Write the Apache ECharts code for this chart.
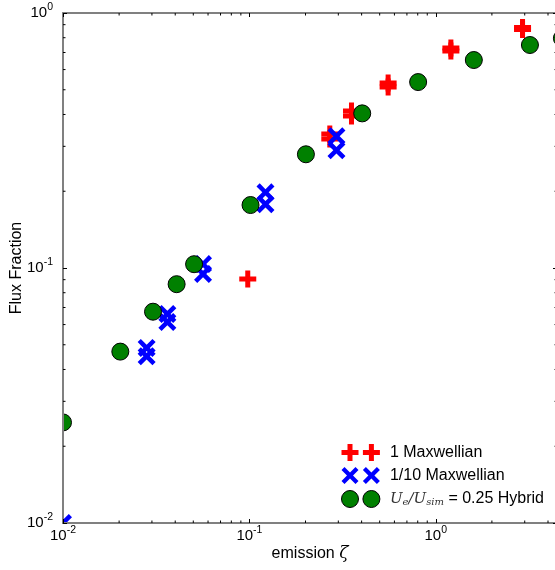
<!DOCTYPE html>
<html><head><meta charset="utf-8">
<script src="https://cdn.jsdelivr.net/npm/echarts@6/dist/echarts.min.js"></script>
<style>html,body{margin:0;padding:0;background:#fff}#c{width:555px;height:570px}</style>
</head><body><div id="c"></div>
<script>
// ---- data ----
const redX = [0.098, 0.27, 0.27, 0.353, 0.353, 0.555, 0.555, 1.205, 1.205, 2.92, 2.92];
const redY = [0.0906, 0.335, 0.3206, 0.4127, 0.3944, 0.5314, 0.5127, 0.7292, 0.7096, 0.877, 0.8614];
const blueX = [0.01, 0.0281, 0.0281, 0.0363, 0.0363, 0.0564, 0.0564, 0.122, 0.122, 0.2932, 0.2932];
const blueY = [0.01, 0.0486, 0.0451, 0.066, 0.0614, 0.1036, 0.0947, 0.198, 0.1778, 0.3286, 0.2894];
const greenX = [0.01, 0.0203, 0.0304, 0.0407, 0.0505, 0.1014, 0.201, 0.403, 0.804, 1.60, 3.2, 4.75];
const greenY = [0.0248, 0.047, 0.0674, 0.0864, 0.1035, 0.1766, 0.2792, 0.404, 0.536, 0.654, 0.749, 0.796];
const seriesNames = ['1 Maxwellian', '1/10 Maxwellian', 'Hybrid'];
const xMin = 0.01, xMax = 4.47, yMin = 0.01, yMax = 1;
const xMinorTicks = [0.02,0.03,0.04,0.05,0.06,0.07,0.08,0.09,0.2,0.3,0.4,0.5,0.6,0.7,0.8,0.9,2,3,4];
const yMinorTicks = [0.02,0.03,0.04,0.05,0.06,0.07,0.08,0.09,0.2,0.3,0.4,0.5,0.6,0.7,0.8,0.9];

// ---- marker shapes ----
const PLUS = 'path://M6,0H11V6H17V11H11V17H6V11H0V6H6Z';
const XMARK = 'path://M0,3.2L3.2,0L9,5.8L14.8,0L18,3.2L12.2,9L18,14.8L14.8,18L9,12.2L3.2,18L0,14.8L5.8,9Z';
const PLUS2 = 'path://M6,0H11V6H17V11H11V17H6V11H0V6H6ZM27.4,0H32.4V6H38.4V11H32.4V17H27.4V11H21.4V6H27.4Z';
const X2 = 'path://M0,3L3,0L8.5,5.5L14,0L17,3L11.5,8.5L17,14L14,17L8.5,11.5L3,17L0,14L5.5,8.5Z' +
  'M21.4,3L24.4,0L29.9,5.5L35.4,0L38.4,3L32.9,8.5L38.4,14L35.4,17L29.9,11.5L24.4,17L21.4,14L26.9,8.5Z';
const C2 = 'path://M0,8.5A8.5,8.5,0,1,1,17,8.5A8.5,8.5,0,1,1,0,8.5ZM21.4,8.5A8.5,8.5,0,1,1,38.4,8.5A8.5,8.5,0,1,1,21.4,8.5Z';

const FONT = 'Liberation Sans';
function pow10Label(v) {
  const e = Math.round(Math.log10(v));
  if (Math.abs(v - Math.pow(10, e)) / v > 1e-6) return '';
  return '{b|10}{s|' + e + '}';
}
const labelRich = {
  b: {fontSize: 15, lineHeight: 22, fontFamily: FONT, color: '#000'},
  s: {fontSize: 10.5, lineHeight: 10, verticalAlign: 'top', fontFamily: FONT, color: '#000'}
};
const axisLineStyle = {color: '#808080', width: 2};
const tickStyle = {inside: true, length: 4, lineStyle: {color: '#000', width: 1}};

function pairs(xs, ys) { return xs.map((x, i) => [x, ys[i]]); }

const chart = echarts.init(document.getElementById('c'), null, {renderer: 'canvas'});
chart.setOption({
  animation: false,
  backgroundColor: '#fff',
  grid: {left: 63, top: 13, width: 494, height: 510, containLabel: false, outerBoundsMode: 'none'},
  xAxis: [{
    type: 'log', logBase: 10, min: xMin, max: xMax, position: 'bottom', z: 20,
    name: '{a|emission }{z|ζ}', nameLocation: 'middle', nameGap: 22, nameMoveOverlap: false,
    nameTextStyle: {rich: {a: {fontSize: 16, fontFamily: FONT, color: '#000'},
                           z: {fontSize: 17, fontFamily: 'DejaVu Serif', fontStyle: 'italic', color: '#000'}}},
    axisLine: {show: true, lineStyle: axisLineStyle},
    axisTick: tickStyle,
    axisLabel: {formatter: pow10Label, rich: labelRich, margin: 2, showMinLabel: true, showMaxLabel: true},
    splitLine: {show: false}
  }, {
    type: 'log', logBase: 10, min: xMin, max: xMax, position: 'top', z: 20,
    axisLine: {show: true, lineStyle: axisLineStyle},
    axisTick: tickStyle, axisLabel: {show: false}, splitLine: {show: false}
  }],
  yAxis: [{
    type: 'log', logBase: 10, min: yMin, max: yMax, position: 'left', z: 20,
    name: 'Flux Fraction', nameLocation: 'middle', nameGap: 38, nameMoveOverlap: false,
    nameTextStyle: {fontSize: 16, fontFamily: FONT, color: '#000'},
    axisLine: {show: true, lineStyle: axisLineStyle},
    axisTick: tickStyle,
    axisLabel: {formatter: pow10Label, rich: labelRich, margin: 10, showMinLabel: true, showMaxLabel: true},
    splitLine: {show: false}
  }, {
    type: 'log', logBase: 10, min: yMin, max: yMax, position: 'right', z: 20,
    axisLine: {show: true, lineStyle: axisLineStyle},
    axisTick: tickStyle, axisLabel: {show: false}, splitLine: {show: false}
  }],
  legend: {
    orient: 'vertical', left: 341, top: 444, padding: 0, itemWidth: 38.4, itemHeight: 17, itemGap: 6,
    selectedMode: false,
    data: [
      {name: seriesNames[0], icon: PLUS2, itemStyle: {borderWidth: 0}},
      {name: seriesNames[1], icon: X2, itemStyle: {borderWidth: 0}},
      {name: seriesNames[2], icon: C2, itemStyle: {borderColor: '#000', borderWidth: 1}}
    ],
    formatter: function (name) {
      if (name === 'Hybrid') return '{u0|U}{d|e}{u|/U}{d|sim}{t| = 0.25 Hybrid}';
      return '{p|' + name + '}';
    },
    textStyle: {
      fontSize: 16, fontFamily: FONT, color: '#000', lineHeight: 17,
      rich: {
        u0: {fontSize: 15, lineHeight: 17, fontFamily: 'DejaVu Serif', fontStyle: 'italic', color: '#333', padding: [0, 0, 0, 5]},
        u: {fontSize: 15, lineHeight: 17, fontFamily: 'DejaVu Serif', fontStyle: 'italic', color: '#333'},
        d: {fontSize: 10, lineHeight: 10, verticalAlign: 'bottom', fontFamily: 'DejaVu Serif', fontStyle: 'italic', color: '#333'},
        t: {fontSize: 16, lineHeight: 17, fontFamily: FONT, color: '#000'},
        p: {fontSize: 16, lineHeight: 17, fontFamily: FONT, color: '#000', padding: [0, 0, 0, 5]}
      }
    }
  },
  graphic: {
    elements: [
      {type: 'rect', shape: {x: 0, y: 0, width: 62, height: 570}, style: {fill: '#fff'}, z: 10, silent: true},
      {type: 'rect', shape: {x: 0, y: 524, width: 555, height: 46}, style: {fill: '#fff'}, z: 10, silent: true}
    ]
  },
  series: [
    {name: seriesNames[0], type: 'scatter', data: pairs(redX, redY), symbol: PLUS, symbolSize: 17,
     itemStyle: {color: '#ff0000', opacity: 1}, clip: false, z: 2},
    {name: seriesNames[1], type: 'scatter', data: pairs(blueX, blueY), symbol: XMARK, symbolSize: 18,
     itemStyle: {color: '#0000ff', opacity: 1}, clip: false, z: 2},
    {name: seriesNames[2], type: 'scatter', data: pairs(greenX, greenY), symbol: 'circle', symbolSize: 17,
     itemStyle: {color: '#008000', borderColor: '#000', borderWidth: 1, opacity: 1}, clip: false, z: 2},
    {type: 'custom', name: 'xminor', silent: true, clip: false, z: 21,
     data: xMinorTicks.map(v => [v, yMin]),
     renderItem: function (params, api) {
       const r = params.coordSys;
       const x = api.coord([api.value(0), yMin])[0];
       const b = r.y + r.height;
       return {type: 'group', children: [
         {type: 'line', shape: {x1: x, y1: b, x2: x, y2: b - 2.5}, style: {stroke: '#000', lineWidth: 1}},
         {type: 'line', shape: {x1: x, y1: r.y, x2: x, y2: r.y + 2.5}, style: {stroke: '#000', lineWidth: 1}}
       ]};
     }},
    {type: 'custom', name: 'yminor', silent: true, clip: false, z: 21,
     data: yMinorTicks.map(v => [xMin, v]),
     renderItem: function (params, api) {
       const r = params.coordSys;
       const y = api.coord([xMin, api.value(1)])[1];
       const rr = r.x + r.width;
       return {type: 'group', children: [
         {type: 'line', shape: {x1: r.x, y1: y, x2: r.x + 2.5, y2: y}, style: {stroke: '#000', lineWidth: 1}},
         {type: 'line', shape: {x1: rr, y1: y, x2: rr - 2.5, y2: y}, style: {stroke: '#000', lineWidth: 1}}
       ]};
     }}
  ]
});
</script></body></html>
